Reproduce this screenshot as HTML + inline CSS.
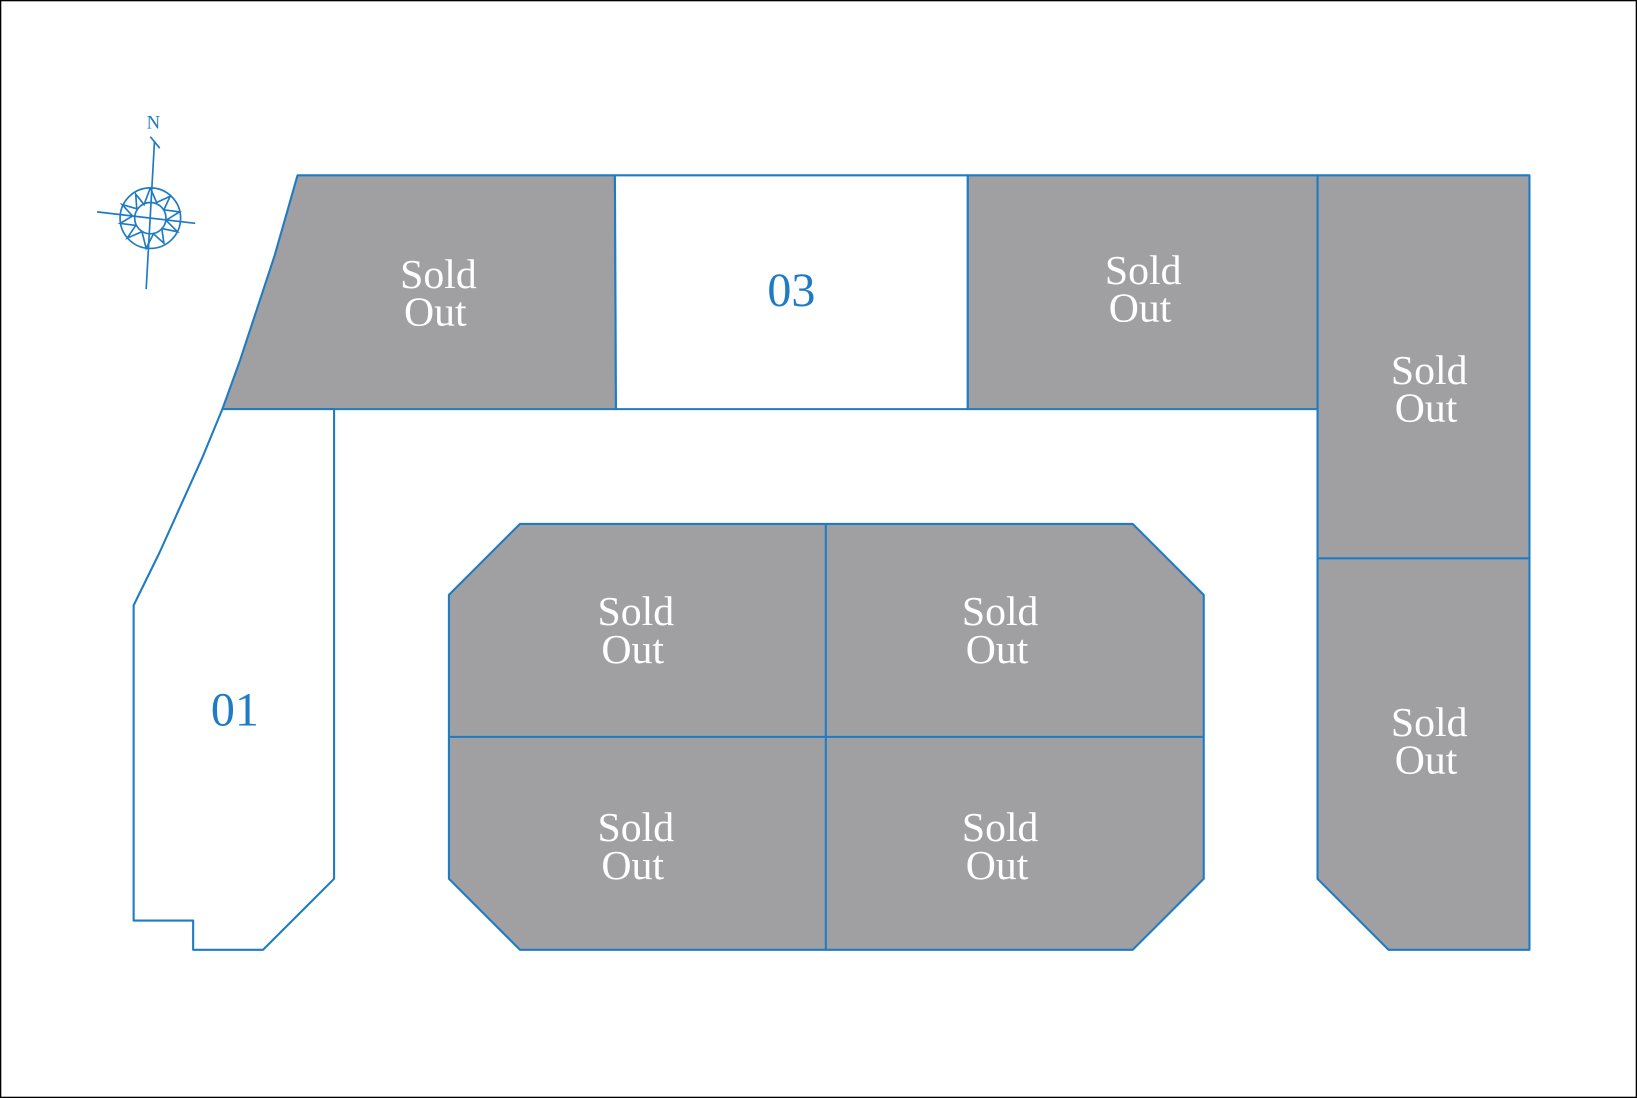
<!DOCTYPE html>
<html><head><meta charset="utf-8"><style>
html,body{margin:0;padding:0;background:#fff}
svg{display:block}
text{font-family:"Liberation Serif",serif}
.s{fill:#fff;font-size:40px;text-anchor:middle}
.b{fill:#1e7bc4;font-size:46px;text-anchor:middle}
</style></head><body>
<svg width="1637" height="1098" viewBox="0 0 1568 1052" preserveAspectRatio="none">
<rect x="0.5" y="0.5" width="1567" height="1051" fill="#fff" stroke="#000" stroke-width="1.5"/>
<g stroke="#1e7bc4" stroke-width="2" stroke-linejoin="round">
<polygon points="285,168 589,168 590,392 213,392 230,345 263,245" fill="#a0a0a2"/>
<polygon points="589,168 927,168 927,392 590,392" fill="#fff"/>
<polygon points="927,168 1262,168 1262,392 927,392" fill="#a0a0a2"/>
<polygon points="1262,168 1465,168 1465,535 1262,535" fill="#a0a0a2"/>
<polygon points="1262,535 1465,535 1465,910 1330,910 1262,842" fill="#a0a0a2"/>
<polygon points="213,392 320,392 320,842 252,910 185,910 185,882 128,882 128,580 153,529 194,438" fill="#fff"/>
<polygon points="498,502 1085,502 1153,570 1153,842 1085,910 498,910 430,842 430,570" fill="#a0a0a2"/>
<line x1="791" y1="502" x2="791" y2="910"/>
<line x1="430" y1="706" x2="1153" y2="706"/>
</g>
<g class="s">
<text x="420" y="276">Sold</text><text x="417" y="312">Out</text>
<text x="1095" y="272">Sold</text><text x="1092" y="308">Out</text>
<text x="1369" y="368">Sold</text><text x="1366" y="404">Out</text>
<text x="1369" y="705">Sold</text><text x="1366" y="741">Out</text>
<text x="609" y="599">Sold</text><text x="606" y="635">Out</text>
<text x="958" y="599">Sold</text><text x="955" y="635">Out</text>
<text x="609" y="806">Sold</text><text x="606" y="842">Out</text>
<text x="958" y="806">Sold</text><text x="955" y="842">Out</text>
</g>
<text class="b" x="758" y="293">03</text>
<text class="b" x="225" y="695">01</text>
<g stroke="#1e7bc4" stroke-width="1.6" fill="none">
<line x1="148" y1="135" x2="140" y2="277"/>
<line x1="144" y1="131" x2="153" y2="142"/>
<line x1="93" y1="203" x2="187" y2="214"/>
<circle cx="144" cy="209" r="29"/>
<circle cx="144" cy="209" r="15"/>
<polyline points="144,180 138,196 130,186 131,200 117,196 127,207 115,214 130,216 122,228 136,222 140,238 147,224 157,233 155,219 170,222 159,211 172,203 157,201 163,188 150,194 144,180"/>
</g>
<text x="147" y="123" fill="#1e7bc4" font-size="18" text-anchor="middle">N</text>
</svg>
</body></html>
